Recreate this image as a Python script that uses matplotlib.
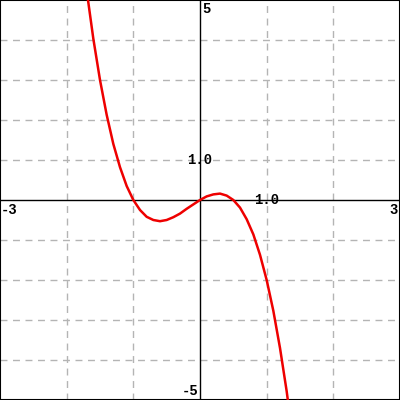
import matplotlib
matplotlib.use("Agg")
import matplotlib.pyplot as plt

# points
xs = [-1.7, -1.6, -1.5, -1.4, -1.3, -1.2, -1.1, -1.0, -0.9, -0.8, -0.7, -0.6,
      -0.5, -0.4, -0.3, -0.2, -0.1, 0.0, 0.1, 0.2, 0.3, 0.4, 0.5, 0.6, 0.7,
      0.8, 0.9, 1.0, 1.1, 1.2, 1.3, 1.4]
ys = [5.24, 4.03, 3.0, 2.13, 1.40, 0.82, 0.35, 0.0, -0.25, -0.42, -0.50, -0.53,
      -0.50, -0.43, -0.34, -0.22, -0.11, 0.0, 0.09, 0.14, 0.16, 0.11, 0.0,
      -0.19, -0.48, -0.86, -1.37, -2.0, -2.77, -3.70, -4.78, -6.05]

x_grid = [-2, -1, 1, 2]
y_grid = [-4, -3, -2, -1, 1, 2, 3, 4]

fig = plt.figure(figsize=(4, 4), dpi=100, facecolor='white')
ax = fig.add_axes([0, 0, 1, 1])
ax.set_xlim(-3, 3)
ax.set_ylim(-5, 5)

for gx in x_grid:
    ax.axvline(gx, color='#b4b4b4', lw=1, dashes=(5, 4), zorder=1)
for gy in y_grid:
    ax.axhline(gy, color='#b4b4b4', lw=1, dashes=(5, 4), zorder=1)

ax.axhline(0, color='black', lw=1, zorder=2)
ax.axvline(0, color='black', lw=1, zorder=2)

ax.plot(xs, ys, color='#ee0000', lw=1.8, zorder=3)

for s in ax.spines.values():
    s.set_color('black')
    s.set_linewidth(1.5)
ax.set_xticks([])
ax.set_yticks([])

font = dict(family='Liberation Mono', fontweight='bold', fontsize=10, color='black')
ax.text(0.04, 4.95, '5', ha='left', va='top', **font)
ax.text(-0.02, -4.95, '-5', ha='right', va='bottom', **font)
ax.text(-2.99, -0.08, '-3', ha='left', va='top', **font)
ax.text(2.97, -0.08, '3', ha='right', va='top', **font)
ax.text(0.0, 1.0, '1.0', ha='center', va='center', **font)
ax.text(1.0, 0.0, '1.0', ha='center', va='center', **font)

fig.savefig('out.png', dpi=100)
